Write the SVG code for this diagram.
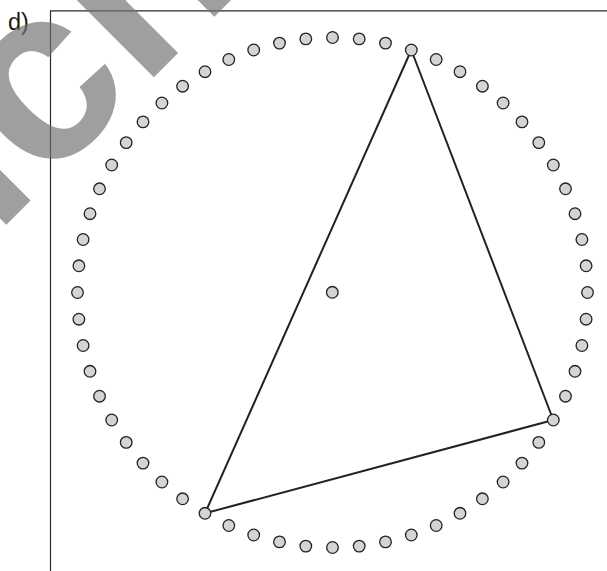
<svg xmlns="http://www.w3.org/2000/svg" xmlns:xlink="http://www.w3.org/1999/xlink" width="607" height="571" viewBox="0 0 607 571">
<style>
.frame{fill:none;stroke:#2a2a2a;stroke-width:1.2}
.edge{fill:none;stroke:#222;stroke-width:2;stroke-linecap:round}
.dot{fill:#d3d4d5;stroke:#222;stroke-width:1.3}
.label{font-family:"Liberation Sans",Arial,sans-serif;font-size:23.5px;fill:#1a1a1a}
.wm{font-family:"Liberation Sans",Arial,sans-serif;font-weight:bold;font-size:250px;fill:#707070;fill-opacity:0.67}
</style>
<rect width="607" height="571" fill="#fff"/>
<g id="frame">
<path class="frame" d="M50.5,571 V10.8 H607"/>
</g>
<text class="label" x="8" y="30">d)</text>
<g id="connectors">
<line class="edge" x1="411.3" y1="50.0" x2="553.3" y2="420.0"/>
<line class="edge" x1="553.3" y1="420.0" x2="205.0" y2="513.3"/>
<line class="edge" x1="205.0" y1="513.3" x2="411.3" y2="50.0"/>
</g>
<g id="dots">
<circle class="dot" r="5.8" cx="587.5" cy="292.5"/>
<circle class="dot" r="5.8" cx="586.1" cy="319.2"/>
<circle class="dot" r="5.8" cx="581.9" cy="345.5"/>
<circle class="dot" r="5.8" cx="575.0" cy="371.3"/>
<circle class="dot" r="5.8" cx="565.5" cy="396.2"/>
<circle class="dot" r="5.8" cx="553.3" cy="420.0" id="vertex-b"/>
<circle class="dot" r="5.8" cx="538.8" cy="442.4"/>
<circle class="dot" r="5.8" cx="522.0" cy="463.1"/>
<circle class="dot" r="5.8" cx="503.1" cy="482.0"/>
<circle class="dot" r="5.8" cx="482.4" cy="498.8"/>
<circle class="dot" r="5.8" cx="460.0" cy="513.3"/>
<circle class="dot" r="5.8" cx="436.2" cy="525.5"/>
<circle class="dot" r="5.8" cx="411.3" cy="535.0"/>
<circle class="dot" r="5.8" cx="385.5" cy="541.9"/>
<circle class="dot" r="5.8" cx="359.2" cy="546.1"/>
<circle class="dot" r="5.8" cx="332.5" cy="547.5"/>
<circle class="dot" r="5.8" cx="305.8" cy="546.1"/>
<circle class="dot" r="5.8" cx="279.5" cy="541.9"/>
<circle class="dot" r="5.8" cx="253.7" cy="535.0"/>
<circle class="dot" r="5.8" cx="228.8" cy="525.5"/>
<circle class="dot" r="5.8" cx="205.0" cy="513.3" id="vertex-c"/>
<circle class="dot" r="5.8" cx="182.6" cy="498.8"/>
<circle class="dot" r="5.8" cx="161.9" cy="482.0"/>
<circle class="dot" r="5.8" cx="143.0" cy="463.1"/>
<circle class="dot" r="5.8" cx="126.2" cy="442.4"/>
<circle class="dot" r="5.8" cx="111.7" cy="420.0"/>
<circle class="dot" r="5.8" cx="99.5" cy="396.2"/>
<circle class="dot" r="5.8" cx="90.0" cy="371.3"/>
<circle class="dot" r="5.8" cx="83.1" cy="345.5"/>
<circle class="dot" r="5.8" cx="78.9" cy="319.2"/>
<circle class="dot" r="5.8" cx="77.5" cy="292.5"/>
<circle class="dot" r="5.8" cx="78.9" cy="265.8"/>
<circle class="dot" r="5.8" cx="83.1" cy="239.5"/>
<circle class="dot" r="5.8" cx="90.0" cy="213.7"/>
<circle class="dot" r="5.8" cx="99.5" cy="188.8"/>
<circle class="dot" r="5.8" cx="111.7" cy="165.0"/>
<circle class="dot" r="5.8" cx="126.2" cy="142.6"/>
<circle class="dot" r="5.8" cx="143.0" cy="121.9"/>
<circle class="dot" r="5.8" cx="161.9" cy="103.0"/>
<circle class="dot" r="5.8" cx="182.6" cy="86.2"/>
<circle class="dot" r="5.8" cx="205.0" cy="71.7"/>
<circle class="dot" r="5.8" cx="228.8" cy="59.5"/>
<circle class="dot" r="5.8" cx="253.7" cy="50.0"/>
<circle class="dot" r="5.8" cx="279.5" cy="43.1"/>
<circle class="dot" r="5.8" cx="305.8" cy="38.9"/>
<circle class="dot" r="5.8" cx="332.5" cy="37.5"/>
<circle class="dot" r="5.8" cx="359.2" cy="38.9"/>
<circle class="dot" r="5.8" cx="385.5" cy="43.1"/>
<circle class="dot" r="5.8" cx="411.3" cy="50.0" id="vertex-a"/>
<circle class="dot" r="5.8" cx="436.2" cy="59.5"/>
<circle class="dot" r="5.8" cx="460.0" cy="71.7"/>
<circle class="dot" r="5.8" cx="482.4" cy="86.2"/>
<circle class="dot" r="5.8" cx="503.1" cy="103.0"/>
<circle class="dot" r="5.8" cx="522.0" cy="121.9"/>
<circle class="dot" r="5.8" cx="538.8" cy="142.6"/>
<circle class="dot" r="5.8" cx="553.3" cy="165.0"/>
<circle class="dot" r="5.8" cx="565.5" cy="188.8"/>
<circle class="dot" r="5.8" cx="575.0" cy="213.7"/>
<circle class="dot" r="5.8" cx="581.9" cy="239.5"/>
<circle class="dot" r="5.8" cx="586.1" cy="265.8"/>
</g>
<g id="center">
<circle class="dot" r="5.8" cx="332.3" cy="292.3"/>
</g>
<text class="wm" transform="translate(-340,571) rotate(-45)" x="0" y="0">Ansicht</text>
</svg>
